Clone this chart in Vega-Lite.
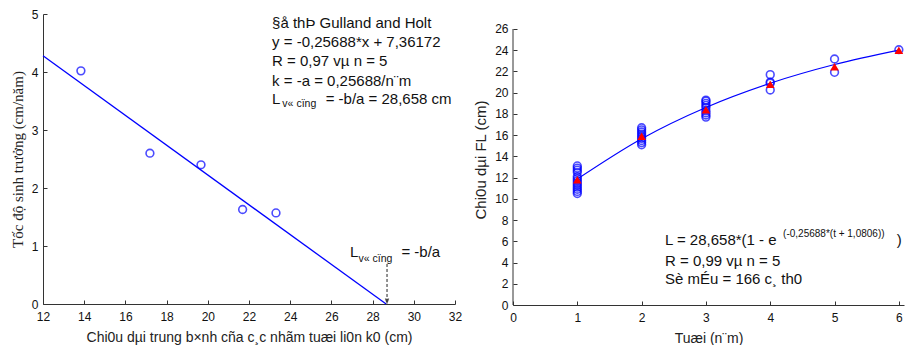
{
  "$schema": "https://vega.github.io/schema/vega-lite/v6.json",
  "padding": {"left": 10, "top": 8, "right": 0, "bottom": 0},
  "spacing": 11,
  "config": {
    "view": {"stroke": null},
    "font": "Liberation Sans",
    "axis": {
      "grid": false,
      "domainColor": "#333333",
      "tickColor": "#333333",
      "tickSize": -4,
      "labelFont": "Liberation Sans",
      "labelFontSize": 12,
      "labelColor": "#111111",
      "labelFlush": false,
      "titleFont": "Liberation Sans",
      "titleFontWeight": "normal",
      "titleColor": "#222222"
    }
  },
  "datasets": {
    "gh_points": [
      {"L": 13.84, "G": 4.02},
      {"L": 17.19, "G": 2.60},
      {"L": 19.67, "G": 2.40},
      {"L": 21.69, "G": 1.63},
      {"L": 23.31, "G": 1.57}
    ],
    "gh_line": [
      {"L": 12, "G": 4.27916},
      {"L": 28.658, "G": 0}
    ],
    "gh_arrow": [{"L": 28.7, "G": 0.69, "G2": 0.02}],
    "gh_text": [
      {"L": 23.12, "G": 4.845, "t": "§å thÞ Gulland and Holt"},
      {"L": 23.12, "G": 4.517, "t": "y = -0,25688*x + 7,36172"},
      {"L": 23.12, "G": 4.19, "t": "R = 0,97 vµ n = 5"},
      {"L": 23.12, "G": 3.845, "t": "k = -a = 0,25688/n¨m"},
      {"L": 23.12, "G": 3.534, "t": "L"},
      {"L": 25.72, "G": 3.534, "t": "= -b/a = 28,658 cm"},
      {"L": 26.90, "G": 0.897, "t": "L"},
      {"L": 29.40, "G": 0.897, "t": "= -b/a"}
    ],
    "gh_sub": [
      {"L": 23.62, "G": 3.448, "t": "v« cïng"},
      {"L": 27.32, "G": 0.776, "t": "v« cïng"}
    ],
    "obs": [
      {"age": 1, "len": 10.5}, {"age": 1, "len": 10.7}, {"age": 1, "len": 10.9}, {"age": 1, "len": 11.1},
      {"age": 1, "len": 11.3}, {"age": 1, "len": 11.5}, {"age": 1, "len": 11.7}, {"age": 1, "len": 11.9},
      {"age": 1, "len": 12.1}, {"age": 1, "len": 12.5}, {"age": 1, "len": 12.7}, {"age": 1, "len": 12.9},
      {"age": 1, "len": 13.1},
      {"age": 2, "len": 15.1}, {"age": 2, "len": 15.3}, {"age": 2, "len": 15.5}, {"age": 2, "len": 15.7},
      {"age": 2, "len": 15.9}, {"age": 2, "len": 16.1}, {"age": 2, "len": 16.3}, {"age": 2, "len": 16.5},
      {"age": 2, "len": 16.7},
      {"age": 3, "len": 17.7}, {"age": 3, "len": 17.9}, {"age": 3, "len": 18.1}, {"age": 3, "len": 18.3},
      {"age": 3, "len": 18.6}, {"age": 3, "len": 18.8}, {"age": 3, "len": 19.0}, {"age": 3, "len": 19.2},
      {"age": 3, "len": 19.3},
      {"age": 4, "len": 20.25}, {"age": 4, "len": 20.9}, {"age": 4, "len": 21.0}, {"age": 4, "len": 21.7},
      {"age": 5, "len": 21.92}, {"age": 5, "len": 23.17},
      {"age": 6, "len": 24.05}
    ],
    "means": [
      {"age": 1, "len": 11.8}, {"age": 2, "len": 15.9}, {"age": 3, "len": 18.4},
      {"age": 4, "len": 20.8}, {"age": 5, "len": 22.45}, {"age": 6, "len": 24.0}
    ],
    "vb": [
      {"age": 1, "len": 11.87}, {"age": 2, "len": 15.667}, {"age": 3, "len": 18.611},
      {"age": 4, "len": 20.888}, {"age": 5, "len": 22.648}, {"age": 6, "len": 24.01}
    ],
    "yaxis_line": [{"age": 0, "len": 0, "len2": 26}],
    "vb_text": [
      {"age": 2.363, "len": 6.123, "t": "L = 28,658*(1 - e"},
      {"age": 5.969, "len": 6.123, "t": ")"},
      {"age": 2.363, "len": 4.145, "t": "R = 0,99 vµ n = 5"},
      {"age": 2.363, "len": 2.449, "t": "Sè mÉu = 166 c¸ th0"}
    ],
    "vb_sup": [
      {"age": 4.2, "len": 6.689, "t": "(-0,25688*(t + 1,0806))"}
    ]
  },
  "hconcat": [
    {
      "width": 412,
      "height": 290,
      "encoding": {
        "x": {
          "field": "L", "type": "quantitative",
          "scale": {"domain": [12, 32], "nice": false, "zero": false},
          "axis": {
            "values": [12, 14, 16, 18, 20, 22, 24, 26, 28, 30, 32],
            "title": "Chi0u dµi trung b×nh cña c¸c nhãm tuæi li0n k0 (cm)",
            "titleFontSize": 14, "labelPadding": 11, "titlePadding": 8
          }
        },
        "y": {
          "field": "G", "type": "quantitative",
          "scale": {"domain": [0, 5], "nice": false},
          "axis": {
            "values": [0, 1, 2, 3, 4, 5],
            "title": "Tốc độ sinh trưởng (cm/năm)",
            "titleFont": "Liberation Serif", "titleFontSize": 15,
            "labelPadding": 9, "titlePadding": 6
          }
        }
      },
      "layer": [
        {
          "data": {"name": "gh_line"},
          "mark": {"type": "line", "color": "#0000ff", "strokeWidth": 1.3}
        },
        {
          "data": {"name": "gh_points"},
          "mark": {"type": "point", "shape": "circle", "filled": false, "color": "#0000ff", "size": 60, "strokeWidth": 1.6}
        },
        {
          "data": {"name": "gh_arrow"},
          "mark": {"type": "rule", "color": "#222222", "strokeDash": [3, 2], "strokeWidth": 1},
          "encoding": {"y2": {"field": "G2"}}
        },
        {
          "data": {"name": "gh_arrow"},
          "mark": {"type": "point", "shape": "M-0.6,-1.6L0,0L0.6,-1.6M0,-1.6L0,0", "filled": false, "color": "#222222", "size": 30, "strokeWidth": 1.2},
          "encoding": {"y": {"field": "G2", "type": "quantitative"}}
        },
        {
          "data": {"name": "gh_text"},
          "mark": {"type": "text", "align": "left", "baseline": "middle", "fontSize": 15, "color": "#111111"},
          "encoding": {"text": {"field": "t"}}
        },
        {
          "data": {"name": "gh_sub"},
          "mark": {"type": "text", "align": "left", "baseline": "middle", "fontSize": 10.5, "color": "#111111"},
          "encoding": {"text": {"field": "t"}}
        }
      ]
    },
    {
      "width": 391,
      "height": 291,
      "encoding": {
        "x": {
          "field": "age", "type": "quantitative",
          "scale": {"domain": [0, 6.08], "nice": false},
          "axis": {
            "values": [0, 1, 2, 3, 4, 5, 6],
            "title": "Tuæi (n¨m)",
            "titleFontSize": 14, "labelPadding": 11, "titlePadding": 8
          }
        },
        "y": {
          "field": "len", "type": "quantitative",
          "scale": {"domain": [0, 27.413], "nice": false},
          "axis": {
            "values": [0, 2, 4, 6, 8, 10, 12, 14, 16, 18, 20, 22, 24, 26],
            "domain": false,
            "title": "Chi0u dµi FL (cm)",
            "titleFontSize": 15, "labelPadding": 9, "titlePadding": 6
          }
        }
      },
      "layer": [
        {
          "data": {"name": "yaxis_line"},
          "mark": {"type": "rule", "color": "#333333", "strokeWidth": 1},
          "encoding": {"y2": {"field": "len2"}}
        },
        {
          "data": {"name": "obs"},
          "mark": {"type": "point", "shape": "circle", "filled": false, "color": "#0000ff", "size": 60, "strokeWidth": 1.6}
        },
        {
          "data": {"name": "vb"},
          "mark": {"type": "line", "color": "#0000ff", "strokeWidth": 1.1, "interpolate": "monotone"}
        },
        {
          "data": {"name": "means"},
          "mark": {"type": "point", "shape": "triangle-up", "filled": true, "color": "#ff0000", "size": 75, "opacity": 1}
        },
        {
          "data": {"name": "vb_text"},
          "mark": {"type": "text", "align": "left", "baseline": "middle", "fontSize": 15, "color": "#111111"},
          "encoding": {"text": {"field": "t"}}
        },
        {
          "data": {"name": "vb_sup"},
          "mark": {"type": "text", "align": "left", "baseline": "middle", "fontSize": 10, "color": "#111111"},
          "encoding": {"text": {"field": "t"}}
        }
      ]
    }
  ]
}
